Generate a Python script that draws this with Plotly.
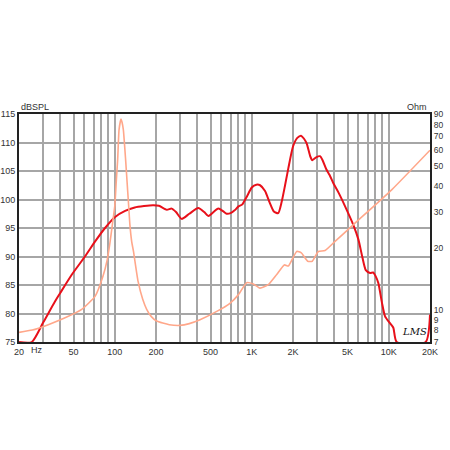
import math
import plotly.graph_objects as go

# ---- data -------------------------------------------------------------
spl_freq = [20, 24.8, 30, 36.6, 40, 48.5, 60.6, 71.7, 84.9, 100, 119, 140, 190, 210, 240,
            260, 280, 308, 350, 407, 450, 482, 520, 570, 620, 656, 700, 750, 800, 850,
            920, 1000, 1080, 1150, 1250, 1350, 1450, 1560, 1650, 1750, 1850, 2000,
            2150, 2290, 2400, 2520, 2680, 2770, 2950, 3150, 3300, 3500, 3700, 3950,
            4300, 4800, 5500, 6000, 6400, 6800, 7300, 7700, 8000, 8400, 8900, 9400,
            10200, 10800, 11430, 18600, 20000]
spl_db = [75, 75, 78.4, 82.1, 83.6, 86.8, 90.0, 92.6, 95.0, 96.9, 98.0, 98.6, 99.0, 98.9,
          98.2, 98.4, 97.8, 96.6, 97.5, 98.5, 97.8, 97.1, 97.7, 98.4, 97.9, 97.5, 97.6,
          98.1, 98.8, 99.1, 100.5, 102.1, 102.6, 102.5, 101.5, 99.5, 97.9, 97.6, 99.5,
          102.5, 105.5, 109.3, 110.8, 111.2, 110.7, 109.8, 107.5, 106.9, 107.4, 107.6,
          106.8, 105.3, 104.3, 102.8, 101.2, 98.8, 95.6, 93.0, 90.0, 87.6, 87.1, 87.2,
          86.6, 85.3, 82.0, 79.5, 78.3, 77.5, 75, 75, 79.8]

imp_freq = [20, 25, 32.7, 43, 57, 72, 82, 88, 92, 96, 100, 102.5, 105, 107.5, 111, 113,
            115.5, 120, 123, 126, 129, 133, 137, 148, 160, 171, 185, 202, 250, 299, 350,
            419, 555, 693, 800, 918, 1026, 1148, 1320, 1521, 1729, 1850, 2128, 2300,
            2560, 2767, 3060, 3427, 4055, 5670, 10500, 20000]
imp_ohm = [7.8, 8.0, 8.5, 9.15, 10.05, 11.7, 14.6, 17.5, 21.0, 26.0, 32.0, 42.0, 54.0,
           75.5, 85.0, 82.0, 75.5, 54.0, 42.0, 33.0, 26.0, 21.5, 19.3, 13.8, 11.3, 10.1,
           9.3, 8.85, 8.5, 8.43, 8.6, 8.98, 9.86, 10.8, 11.9, 13.6, 13.4, 12.8, 13.3,
           14.9, 16.6, 16.4, 19.3, 19.0, 17.3, 17.3, 19.3, 19.5, 21.6, 26.5, 38.5, 60.0]

x_grid = [20, 30, 40, 50, 60, 70, 80, 90, 100, 200, 300, 400, 500, 600, 700, 800, 900,
          1000, 2000, 3000, 4000, 5000, 6000, 7000, 8000, 9000, 10000, 20000]
x_labels = {20: "20", 50: "50", 100: "100", 200: "200", 500: "500", 1000: "1K",
            2000: "2K", 5000: "5K", 10000: "10K", 20000: "20K"}
y_ticks = [75, 80, 85, 90, 95, 100, 105, 110, 115]
ohm_ticks = [7, 8, 9, 10, 20, 30, 40, 50, 60, 70, 80, 90]

left_title = "dBSPL"
right_title = "Ohm"
unit_text = "Hz"
logo_text = "LMS"

# ---- figure -----------------------------------------------------------
RED = "#e8101a"
SALMON = "#ffa78a"
GRID = "#a6a6a6"
TXT = "#333333"
FONT = "Liberation Sans, Arial, sans-serif"

fig = go.Figure()
fig.add_trace(go.Scatter(x=imp_freq, y=imp_ohm, yaxis="y2", mode="lines",
                         line=dict(color=SALMON, width=1.6, shape="spline", smoothing=0.5),
                         hoverinfo="skip", showlegend=False))
fig.add_trace(go.Scatter(x=spl_freq, y=spl_db, mode="lines",
                         line=dict(color=RED, width=2, shape="spline", smoothing=0.6),
                         hoverinfo="skip", showlegend=False))

fig.update_layout(
    width=450, height=450,
    margin=dict(l=19, r=20, t=114, b=108),
    paper_bgcolor="white", plot_bgcolor="white",
    font=dict(family=FONT, size=9, color=TXT),
    xaxis=dict(type="log", range=[math.log10(20), math.log10(20000)],
               tickmode="array", tickvals=x_grid,
               ticktext=[x_labels.get(v, "") for v in x_grid],
               showgrid=True, gridcolor=GRID, gridwidth=1.5,
               showline=True, linecolor="#222", linewidth=2, mirror=True,
               ticks="", zeroline=False, automargin=False,
               tickfont=dict(size=9, color=TXT)),
    yaxis=dict(range=[75, 115], tickmode="array", tickvals=y_ticks,
               showgrid=True, gridcolor=GRID, gridwidth=1.5,
               showline=True, linecolor="#222", linewidth=2, mirror=False,
               ticks="", zeroline=False, automargin=False,
               tickfont=dict(size=9, color=TXT)),
    yaxis2=dict(type="log", overlaying="y", side="right",
                range=[math.log10(7), math.log10(90)],
                tickmode="array", tickvals=ohm_ticks,
                ticktext=[str(v) for v in ohm_ticks],
                showgrid=False, showline=True, linecolor="#222", linewidth=2,
                ticks="", zeroline=False, automargin=False,
                tickfont=dict(size=8.5, color=TXT)),
)

fig.add_annotation(text=left_title, xref="paper", yref="paper", x=0, y=1,
                   xanchor="left", yanchor="bottom", showarrow=False,
                   font=dict(size=9, color=TXT), yshift=0)
fig.add_annotation(text=right_title, xref="paper", yref="paper", x=1, y=1,
                   xanchor="right", yanchor="bottom", showarrow=False,
                   font=dict(size=9, color=TXT), xshift=-1)
fig.add_annotation(text=unit_text, xref="x", yref="paper", x=math.log10(27), y=0,
                   xanchor="center", yanchor="top", showarrow=False,
                   font=dict(size=9, color=TXT), yshift=-1)
fig.add_annotation(text="<i>" + logo_text + "</i>", xref="x", yref="y",
                   x=math.log10(15300), y=76.8, showarrow=False,
                   font=dict(family="DejaVu Serif", size=10, color="#111"))

fig.write_html("out.html", config={"displayModeBar": False},
               post_script="document.body.style.margin='0';document.body.style.padding='0';")
